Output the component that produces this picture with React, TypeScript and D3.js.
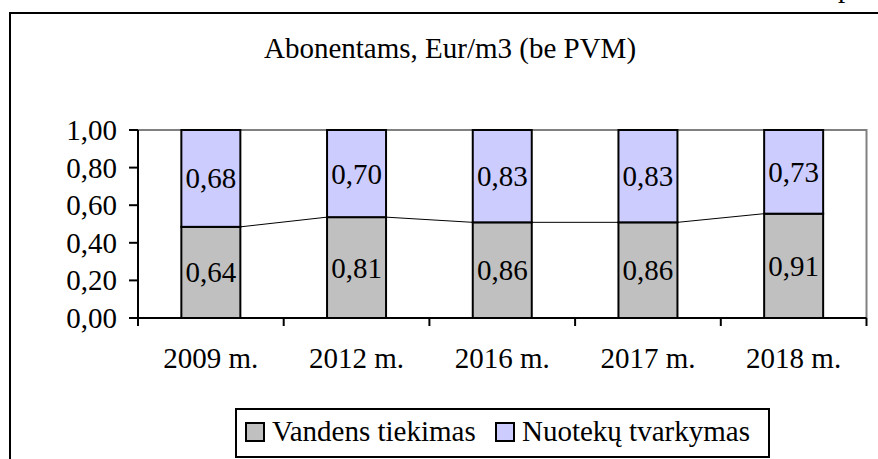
import React from "react";
import * as d3 from "d3";

const categories = ["2009 m.", "2012 m.", "2016 m.", "2017 m.", "2018 m."];
const vandens = [0.64, 0.81, 0.86, 0.86, 0.91];
const nuoteku = [0.68, 0.70, 0.83, 0.83, 0.73];
const seriesNames = ["Vandens tiekimas", "Nuotekų tvarkymas"];
const seriesColors = ["#C0C0C0", "#CCCCFF"];
const yTicks = [0, 0.2, 0.4, 0.6, 0.8, 1.0];
const title = "Abonentams, Eur/m3 (be PVM)";

const W = 878;
const H = 459;
const FONT = "'Liberation Serif', 'Times New Roman', serif";

export default function App() {
  const left = 138, right = 866.5, top = 130, bottom = 318;
  const x = d3.scaleBand<string>().domain(categories).range([left, right]).paddingInner(0).paddingOuter(0);
  const y = d3.scaleLinear().domain([0, 1]).range([bottom, top]);
  const barW = 59;
  const fmt = (v: number) => v.toFixed(2).replace(".", ",");

  const rows = categories.map((c, i) => {
    const total = vandens[i] + nuoteku[i];
    return { c, a: vandens[i], b: nuoteku[i], fa: vandens[i] / total };
  });

  return (
    <svg width={W} height={H} style={{ position: "absolute", left: 0, top: 0, background: "#fff" }} fontFamily={FONT}>
      <rect x={0} y={0} width={W} height={H} fill="#fff" />
      <text x={838} y={-3} fontSize={29} fill="#000">p</text>
      <rect x={10} y={13} width={1000} height={600} fill="none" stroke="#000" strokeWidth={2} />
      <text x={450} y={58} fontSize={29} textAnchor="middle">{title}</text>

      {/* plot border */}
      <path d={`M${left},${top}H${right}V${bottom}`} fill="none" stroke="#808080" strokeWidth={2} />

      {/* series lines */}
      {rows.slice(0, -1).map((r, i) => {
        const cx1 = x(r.c)! + x.bandwidth() / 2;
        const cx2 = x(rows[i + 1].c)! + x.bandwidth() / 2;
        return (
          <line key={"sl" + i} x1={cx1 + barW / 2} y1={y(r.fa)} x2={cx2 - barW / 2} y2={y(rows[i + 1].fa)} stroke="#000" strokeWidth={1} />
        );
      })}

      {rows.map((r) => {
        const cx = x(r.c)! + x.bandwidth() / 2;
        const x0 = cx - barW / 2;
        return (
          <g key={r.c}>
            <rect x={x0} y={y(r.fa)} width={barW} height={y(0) - y(r.fa)} fill={seriesColors[0]} stroke="#000" strokeWidth={2} />
            <rect x={x0} y={y(1)} width={barW} height={y(r.fa) - y(1)} fill={seriesColors[1]} stroke="#000" strokeWidth={2} />
            <text x={cx} y={(y(r.fa) + y(0)) / 2 + 10} fontSize={29} textAnchor="middle">{fmt(r.a)}</text>
            <text x={cx} y={(y(1) + y(r.fa)) / 2 + 10} fontSize={29} textAnchor="middle">{fmt(r.b)}</text>
            <text x={cx} y={368} fontSize={29} textAnchor="middle">{r.c}</text>
          </g>
        );
      })}

      {/* axes */}
      <line x1={left} y1={top} x2={left} y2={bottom} stroke="#000" strokeWidth={2} />
      <line x1={left} y1={bottom} x2={right} y2={bottom} stroke="#000" strokeWidth={2} />
      {yTicks.map((t) => (
        <g key={t}>
          <line x1={left - 9} x2={left} y1={y(t)} y2={y(t)} stroke="#000" strokeWidth={2} />
          <text x={117} y={y(t) + 10} fontSize={29} textAnchor="end">{fmt(t)}</text>
        </g>
      ))}
      {d3.range(categories.length + 1).map((i) => {
        const tx = left + i * x.bandwidth();
        return <line key={"xt" + i} x1={tx} x2={tx} y1={bottom} y2={bottom + 8} stroke="#000" strokeWidth={2} />;
      })}

      {/* legend */}
      <rect x={236} y={409} width={533} height={48} fill="#fff" stroke="#000" strokeWidth={2} />
      <rect x={246} y={423} width={18} height={18} fill={seriesColors[0]} stroke="#000" strokeWidth={2} />
      <text x={272} y={441} fontSize={29}>{seriesNames[0]}</text>
      <rect x={496} y={423} width={18} height={18} fill={seriesColors[1]} stroke="#000" strokeWidth={2} />
      <text x={522} y={441} fontSize={29}>{seriesNames[1]}</text>
    </svg>
  );
}
